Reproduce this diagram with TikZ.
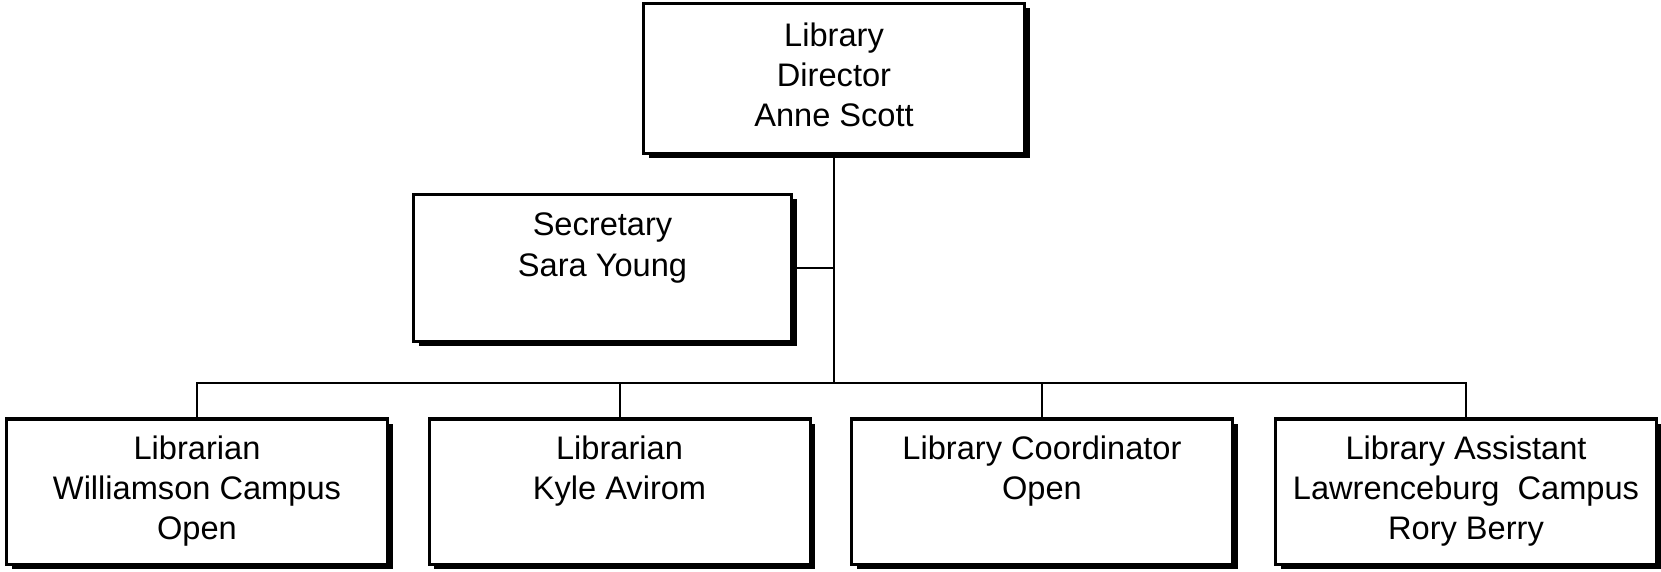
\documentclass[tikz,border=0pt]{standalone}
\usepackage{fontspec}
\setmainfont{Liberation Sans}
\usetikzlibrary{shadows}
\tikzset{
  orgbox/.style={draw=black, fill=white, line width=1.5pt, inner sep=0pt,
    minimum width=190.5pt, minimum height=72.5pt, align=center,
    font=\fontsize{16.3}{20}\selectfont,
    drop shadow={shadow xshift=2.5pt, shadow yshift=-2.5pt, opacity=1, fill=black}},
  link/.style={draw=black, line width=1pt}
}
\begin{document}
\begin{tikzpicture}[x=0.5pt, y=-0.5pt]
\useasboundingbox (0,0) rectangle (1661,572);
\node[orgbox, minimum height=75pt] (dir) at (834,78.5) {\strut Library\\Director\\Anne Scott\strut};
\node[orgbox, minimum width=189pt, minimum height=73.5pt] (sec) at (602.5,268) {\strut Secretary\\Sara Young\\\strut};
\node[orgbox] (b1) at (197,491.5) {\strut Librarian\\Williamson Campus\\Open\strut};
\node[orgbox] (b2) at (619.5,491.5) {\strut Librarian\\Kyle Avirom\\\strut};
\node[orgbox] (b3) at (1042,491.5) {\strut Library Coordinator\\Open\\\strut};
\node[orgbox] (b4) at (1466,491.5) {\strut Library Assistant\\Lawrenceburg~ Campus\\Rory Berry\strut};
\coordinate (bus) at (834,383);
\draw[link] (dir.south) -- (bus);
\draw[link] (sec.east) -- (sec.east -| bus);
\draw[link] (b1.north) |- (bus) -| (b4.north);
\draw[link] (b2.north) -- (b2.north |- bus);
\draw[link] (b3.north) -- (b3.north |- bus);
\end{tikzpicture}
\end{document}
